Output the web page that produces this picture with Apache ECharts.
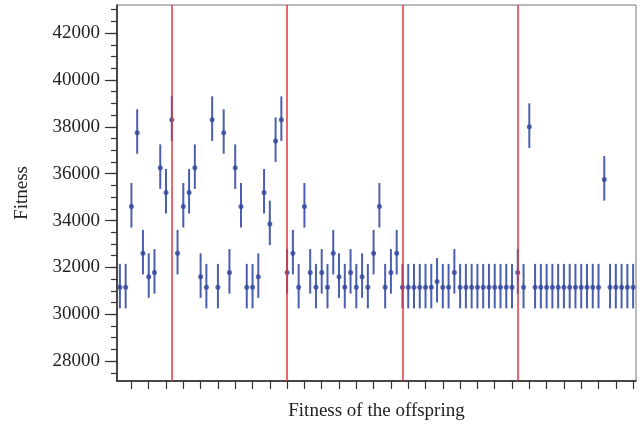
<!DOCTYPE html>
<html>
<head>
<meta charset="utf-8">
<script src="https://cdn.jsdelivr.net/npm/echarts@6/dist/echarts.min.js"></script>
<style>
  html, body { margin: 0; padding: 0; background: #fff; }
  #main { width: 640px; height: 426px; }
</style>
</head>
<body>
<div id="main"></div>
<script>
// fitness of each offspring (90 individuals)
var fitness = [
    31150, 31150, 34600, 37750, 32600, 31600, 31780, 36250, 35200, 38300,
    32600, 34600, 35200, 36250, 31600, 31150, 38300, 31150, 37750, 31780,
    36250, 34600, 31150, 31150, 31600, 35200, 33850, 37400, 38300, 31780,
    32600, 31150, 34600, 31780, 31150, 31780, 31150, 32600, 31600, 31150,
    31780, 31150, 31600, 31150, 32600, 34600, 31150, 31780, 32600, 31150,
    31150, 31150, 31150, 31150, 31150, 31400, 31150, 31150, 31780, 31150,
    31150, 31150, 31150, 31150, 31150, 31150, 31150, 31150, 31150, 31780,
    31150, 38000, 31150, 31150, 31150, 31150, 31150, 31150, 31150, 31150,
    31150, 31150, 31150, 31150, 35750, 31150, 31150, 31150, 31150, 31150
];
var errUp = 1000;
var errDown = 900;

// red separators
var redLines = [10, 30, 50, 70];

// tick values
var xTicks = [3, 6, 9, 12, 15, 18, 21, 24, 27, 30, 33, 36, 39, 42, 45,
    48, 51, 54, 57, 60, 63, 66, 69, 72, 75, 78, 81, 84, 87, 90];
var yLabels = [28000, 30000, 32000, 34000, 36000, 38000, 40000, 42000];
var yMinor = [27500, 28000, 28500, 29000, 29500, 30000, 30500, 31000, 31500,
    32000, 32500, 33000, 33500, 34000, 34500, 35000, 35500, 36000, 36500,
    37000, 37500, 38000, 38500, 39000, 39500, 40000, 40500, 41000, 41500,
    42000, 42500, 43000];

var points = fitness.map(function (v, i) { return [i + 1, v]; });
var bars = fitness.map(function (v, i) { return [i + 1, v - errDown, v + errUp]; });

var font = 'Liberation Serif';
var myChart = echarts.init(document.getElementById('main'));

var option = {
    animation: false,
    grid: {
        left: 117, right: 4, top: 5, bottom: 45,
        show: true,
        borderColor: '#777',
        borderWidth: 1,
        backgroundColor: '#fff'
    },
    xAxis: {
        type: 'value',
        min: 0.5,
        max: 90.5,
        name: 'Fitness of the offspring',
        nameLocation: 'middle',
        nameGap: 21,
        nameTextStyle: { fontFamily: font, fontSize: 19, color: '#222' },
        axisLine: { show: true, onZero: false, lineStyle: { color: '#222', width: 1.5 } },
        axisTick: { show: true, length: 8, customValues: xTicks, lineStyle: { color: '#333', width: 1.2 } },
        axisLabel: { show: false },
        splitLine: { show: false }
    },
    yAxis: [
        {
            type: 'value',
            min: 27150,
            max: 43200,
            position: 'left',
            name: 'Fitness',
            nameLocation: 'middle',
            nameGap: 85,
            nameTextStyle: { fontFamily: font, fontSize: 19, color: '#222' },
            axisLine: { show: true, lineStyle: { color: '#222', width: 1.5 } },
            axisTick: { show: true, length: 12, customValues: yLabels, lineStyle: { color: '#333', width: 1.2 } },
            axisLabel: {
                customValues: yLabels, margin: 17, fontFamily: font, fontSize: 19, color: '#222',
                formatter: function (v) { return String(v); }
            },
            splitLine: { show: false }
        },
        {
            type: 'value',
            min: 27150,
            max: 43200,
            position: 'left',
            axisLine: { show: false },
            axisTick: { show: true, length: 6, customValues: yMinor, lineStyle: { color: '#333', width: 1.2 } },
            axisLabel: { show: false },
            splitLine: { show: false }
        }
    ],
    series: [
        {
            // only carries the red separators, below the marks
            type: 'scatter',
            data: [],
            z: 1,
            markLine: {
                silent: true,
                symbol: 'none',
                label: { show: false },
                lineStyle: { color: '#e3343c', width: 1.5, type: 'solid' },
                data: redLines.map(function (x) { return { xAxis: x }; })
            }
        },
        {
            type: 'custom',
            data: bars,
            silent: true,
            z: 3,
            renderItem: function (params, api) {
                var lo = api.coord([api.value(0), api.value(1)]);
                var hi = api.coord([api.value(0), api.value(2)]);
                return {
                    type: 'line',
                    shape: { x1: lo[0], y1: lo[1], x2: hi[0], y2: hi[1] },
                    style: { stroke: '#4a5fae', lineWidth: 2 }
                };
            }
        },
        {
            type: 'scatter',
            data: points,
            symbol: 'circle',
            symbolSize: 5,
            z: 4,
            itemStyle: { color: '#2f449c' }
        }
    ]
};

myChart.setOption(option);
</script>
</body>
</html>
